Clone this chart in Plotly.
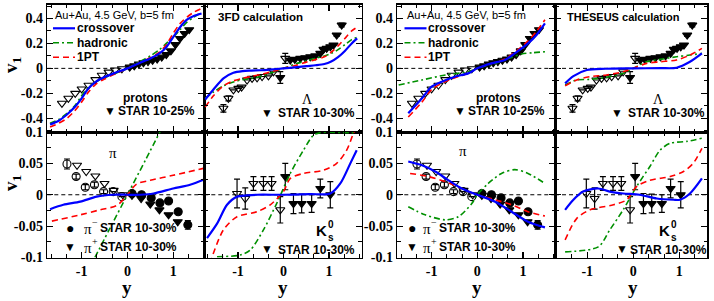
import plotly.graph_objects as go

W, H = 714, 301

# ------------------------------------------------------------------ data
# STAR protons (10-25%)
prot_fill_x = [0.05, 0.15, 0.25, 0.35, 0.45, 0.55, 0.65, 0.75, 0.85, 0.95, 1.05, 1.15, 1.25, 1.35]
prot_fill_y = [0.01, 0.02, 0.035, 0.045, 0.055, 0.065, 0.075, 0.09, 0.11, 0.14, 0.19, 0.24, 0.28, 0.31]
prot_open_x = [-0.12, -0.27, -0.41, -0.56, -0.7, -0.85, -1.0, -1.14, -1.29, -1.43]
prot_open_y = [-0.003, -0.013, -0.03, -0.055, -0.09, -0.135, -0.165, -0.2, -0.24, -0.28]

# STAR Lambda (10-30%)
lam_fill_x = [-0.07, 0.15, 0.25, 0.37, 0.48, 0.59, 0.7, 0.81, 0.88, 0.95, 1.03, 1.1, 1.17, 1.28]
lam_fill_y = [-0.073, 0.067, 0.072, 0.08, 0.085, 0.093, 0.1, 0.12, 0.152, 0.16, 0.173, 0.187, 0.267, 0.347]
lam_fill_e = [0.047, 0.0, 0.0, 0.0, 0.0, 0.0, 0.0, 0.0, 0.0, 0.0, 0.0, 0.0, 0.01, 0.015]
lam_open_x = [0.04, -0.22, -0.33, -0.47, -0.58, -0.69, -0.8, -0.92, -0.99, -1.1, -1.21, -1.32]
lam_open_y = [0.08, -0.027, -0.06, -0.065, -0.075, -0.08, -0.093, -0.15, -0.16, -0.173, -0.24, -0.32]
lam_open_e = [0.04, 0.0, 0.0, 0.0, 0.0, 0.0, 0.0, 0.0, 0.0, 0.0, 0.02, 0.03]

# STAR pions (10-30%)
pim_fill_x = [0.1, 0.31, 0.52, 0.71, 0.9, 1.11, 1.32]
pim_fill_y = [0.002, 0.0, -0.005, -0.013, -0.01, -0.027, -0.048]
pim_fill_e = [0.0, 0.0, 0.0, 0.0, 0.0, 0.0, 0.007]
pim_open_x = [-0.12, -0.31, -0.52, -0.72, -0.92, -1.12, -1.32]
pim_open_y = [-0.003, 0.005, 0.005, 0.016, 0.012, 0.029, 0.049]
pim_open_e = [0.0, 0.0, 0.003, 0.004, 0.004, 0.004, 0.008]
pip_fill_x = [0.1, 0.3, 0.5, 0.7, 0.9, 1.1]
pip_fill_y = [-0.001, -0.006, -0.015, -0.024, -0.032, -0.043]
pip_open_x = [-0.1, -0.3, -0.5, -0.7, -0.9, -1.1]
pip_open_y = [0.0, 0.007, 0.018, 0.03, 0.037, 0.047]

# STAR K0s (10-30%)
k_open_x = [-1.02, -0.84, -0.66, -0.44, -0.26, -0.07]
k_open_y = [0.002, -0.006, 0.018, 0.018, 0.018, -0.024]
k_open_e = [0.023, 0.017, 0.011, 0.011, 0.011, 0.021]
k_fill_x = [0.04, 0.22, 0.4, 0.62, 0.81, 1.03]
k_fill_y = [0.029, -0.014, -0.014, -0.014, 0.01, 0.0]
k_fill_e = [0.021, 0.016, 0.015, 0.014, 0.015, 0.021]

# 3FD protons
fd_p_x = [-1.69, -1.5, -1.32, -1.15, -1.0, -0.85, -0.7, -0.5, -0.3, 0.0, 0.3, 0.5, 0.7, 0.85, 1.0, 1.15, 1.3, 1.45, 1.62]
fd_p_cross = [-0.45, -0.42, -0.37, -0.31, -0.24, -0.16, -0.11, -0.07, -0.04, 0.0, 0.05, 0.08, 0.12, 0.17, 0.25, 0.33, 0.39, 0.42, 0.44]
fd_p_hadr = [-0.44, -0.41, -0.36, -0.30, -0.22, -0.15, -0.11, -0.075, -0.045, 0.0, 0.06, 0.1, 0.15, 0.2, 0.25, 0.31, 0.37, 0.41, 0.45]
fd_p_1pt = [-0.47, -0.44, -0.40, -0.34, -0.27, -0.19, -0.13, -0.085, -0.05, 0.0, 0.05, 0.085, 0.13, 0.19, 0.28, 0.36, 0.41, 0.45, 0.48]

# 3FD Lambda
fd_l_x = [-1.72, -1.54, -1.32, -1.1, -0.9, -0.7, -0.5, -0.3, 0.0, 0.3, 0.5, 0.7, 0.9, 1.05, 1.2, 1.35, 1.5, 1.62]
fd_l_cross = [-0.25, -0.17, -0.08, -0.035, -0.022, -0.018, -0.015, -0.01, 0.0, 0.01, 0.018, 0.025, 0.035, 0.055, 0.09, 0.14, 0.2, 0.24]
fd_l_hadr = [-0.24, -0.19, -0.14, -0.11, -0.09, -0.08, -0.065, -0.04, 0.0, 0.04, 0.06, 0.08, 0.1, 0.12, 0.15, 0.19, 0.23, 0.25]
fd_l_1pt = [-0.31, -0.22, -0.14, -0.10, -0.08, -0.063, -0.05, -0.03, 0.0, 0.027, 0.05, 0.07, 0.093, 0.13, 0.18, 0.24, 0.30, 0.33]

# 3FD pions
fd_pi_cross_x = [-1.69, -1.4, -1.03, -0.67, -0.31, 0.0, 0.28, 0.57, 1.0, 1.37, 1.66]
fd_pi_cross_y = [-0.023, -0.016, -0.011, -0.003, 0.0, 0.0, 0.0, 0.002, 0.01, 0.016, 0.024]
fd_pi_1pt_x = [-1.65, -1.03, -0.6, -0.23, 0.0, 0.2, 0.5, 1.0, 1.66]
fd_pi_1pt_y = [-0.042, -0.032, -0.024, -0.017, 0.0, 0.017, 0.023, 0.031, 0.042]
fd_pi_hadr_x = [-0.85, -0.4, 0.0, 0.4, 0.85]
fd_pi_hadr_y = [-0.12, -0.056, 0.0, 0.056, 0.12]

# 3FD K0s
fd_k_cross_x = [-1.68, -1.46, -1.24, -1.02, -0.8, -0.58, 0.0, 0.6, 1.03, 1.25, 1.47, 1.61]
fd_k_cross_y = [-0.069, -0.046, -0.016, -0.003, -0.001, 0.0, 0.0, 0.001, 0.002, 0.018, 0.05, 0.071]
fd_k_1pt_x = [-1.62, -1.32, -1.02, -0.58, -0.29, 0.0, 0.15, 0.44, 0.88, 1.17, 1.39, 1.54, 1.66]
fd_k_1pt_y = [-0.11, -0.056, -0.035, -0.027, -0.016, 0.005, 0.026, 0.034, 0.039, 0.05, 0.071, 0.098, 0.115]
fd_k_hadr_x = [-1.46, -0.95, -0.73, -0.44, -0.15, 0.15, 0.44, 0.66, 0.81, 1.32, 1.6]
fd_k_hadr_y = [-0.099, -0.096, -0.088, -0.056, -0.014, 0.034, 0.071, 0.095, 0.099, 0.099, 0.099]

# THESEUS protons
th_p_x = [-1.51, -1.21, -1.0, -0.78, -0.49, -0.2, 0.0, 0.31, 0.6, 0.82, 1.11, 1.3, 1.48]
th_p_cross = [-0.36, -0.24, -0.147, -0.107, -0.067, -0.04, 0.0, 0.04, 0.067, 0.12, 0.2, 0.27, 0.36]
th_p_1pt = [-0.39, -0.27, -0.17, -0.12, -0.075, -0.04, 0.0, 0.04, 0.075, 0.13, 0.22, 0.3, 0.39]
th_p_hadr_x = [-1.72, -1.21, -0.7, -0.2, 0.0, 0.39, 0.75, 0.97, 1.2, 1.48]
th_p_hadr_y = [-0.133, -0.093, -0.053, -0.027, 0.0, 0.04, 0.088, 0.115, 0.125, 0.133]

# THESEUS Lambda
th_l_cross_x = [-1.48, -1.3, -1.01, -0.6, 0.0, 0.6, 0.94, 1.23, 1.49]
th_l_cross_y = [-0.12, -0.062, -0.013, -0.003, 0.0, 0.002, 0.005, 0.053, 0.12]
th_l_x = [-1.48, -1.23, -0.94, -0.58, -0.22, 0.0, 0.29, 0.58, 0.94, 1.23, 1.49]
th_l_1pt = [-0.14, -0.093, -0.067, -0.053, -0.027, 0.0, 0.04, 0.053, 0.067, 0.107, 0.16]
th_l_hadr = [-0.133, -0.093, -0.088, -0.072, -0.04, 0.0, 0.053, 0.072, 0.093, 0.107, 0.12]

# THESEUS pions
th_pi_cross_x = [-1.51, -1.21, -0.92, -0.63, -0.34, 0.0, 0.39, 0.75, 1.11, 1.48]
th_pi_cross_y = [0.053, 0.047, 0.037, 0.023, 0.01, 0.0, -0.011, -0.027, -0.043, -0.052]
th_pi_1pt_x = [-1.47, -1.07, -0.7, -0.34, 0.0, 0.39, 0.75, 1.11, 1.48]
th_pi_1pt_y = [0.034, 0.029, 0.021, 0.01, 0.0, -0.008, -0.016, -0.027, -0.034]
th_pi_hadr_x = [-1.51, -1.14, -0.7, -0.41, -0.12, 0.0, 0.24, 0.53, 0.82, 1.11, 1.48]
th_pi_hadr_y = [-0.019, -0.032, -0.04, -0.035, -0.014, 0.0, 0.018, 0.034, 0.04, 0.034, 0.018]

# THESEUS K0s
th_k_cross_x = [-1.48, -1.3, -1.09, -0.76, -0.51, -0.22, 0.14, 0.51, 0.87, 1.01, 1.23, 1.49]
th_k_cross_y = [-0.024, -0.008, 0.005, 0.01, 0.005, 0.002, 0.0, -0.006, -0.008, -0.008, 0.002, 0.026]
th_k_1pt_x = [-1.48, -1.23, -0.94, -0.43, -0.14, 0.07, 0.36, 0.8, 1.09, 1.3, 1.49]
th_k_1pt_y = [-0.072, -0.038, -0.024, -0.016, -0.008, 0.013, 0.023, 0.029, 0.037, 0.05, 0.074]
th_k_hadr_x = [-1.48, -0.76, -0.51, -0.22, 0.07, 0.36, 0.58, 0.8, 1.16, 1.49]
th_k_hadr_y = [-0.091, -0.083, -0.056, -0.024, 0.013, 0.045, 0.071, 0.082, 0.085, 0.09]

# tick labels
x_tickvals = [-1, 0, 1]
x_ticktext = ["-1", "0", "1"]
ytop_tickvals = [-0.4, -0.2, 0, 0.2, 0.4]
ytop_ticktext = ["-0.4", "-0.2", "0", "0.2", "0.4"]
ybot_tickvals = [-0.1, -0.05, 0, 0.05, 0.1]
ybot_ticktext = ["-0.1", "-0.05", "0", "0.05", "0.1"]

# ------------------------------------------------------------------ style
SANS = "Liberation Sans, Arial, sans-serif"
SERIF = "Liberation Serif, Times New Roman, serif"
BLUE = "#0000ff"
GREEN = "#009000"
RED = "#ff0000"


def fx(px):
    return px / W


def fy(py):
    return 1 - py / H


TOP = (4.5, 132.0)
BOT = (132.0, 257.5)
# panel name: (x px domain, y px domain, xrange, yrange, xlabels, ylabels, top?)
panels = {
    1: ((47.3, 204.3), TOP, [-1.75, 1.68], [-0.51, 0.512], False, True, True),
    2: ((204.3, 361.7), TOP, [-1.74, 1.72], [-0.51, 0.512], False, False, True),
    3: ((397.3, 555.0), TOP, [-1.75, 1.70], [-0.51, 0.512], False, True, True),
    4: ((555.0, 707.0), TOP, [-1.70, 1.60], [-0.51, 0.512], False, False, True),
    5: ((47.3, 204.3), BOT, [-1.75, 1.68], [-0.1, 0.1], True, True, False),
    6: ((204.3, 361.7), BOT, [-1.74, 1.72], [-0.1, 0.1], True, False, False),
    7: ((397.3, 555.0), BOT, [-1.75, 1.70], [-0.1, 0.1], True, True, False),
    8: ((555.0, 707.0), BOT, [-1.70, 1.60], [-0.1, 0.1], True, False, False),
}

fig = go.Figure()
layout = dict(
    template="none",
    width=W, height=H, margin=dict(l=0, r=0, t=0, b=0, autoexpand=False),
    paper_bgcolor="white", plot_bgcolor="white", showlegend=False,
)
shapes = []
annotations = []

for k, (xd, yd, xr, yr, xl, yl, top) in panels.items():
    sx = "" if k == 1 else str(k)
    layout["xaxis" + sx] = dict(
        domain=[fx(xd[0]), fx(xd[1])], range=xr, anchor="y" + sx, automargin=False,
        showline=True, linecolor="black", linewidth=1.5, mirror="ticks",
        ticks="inside", ticklen=6, tickwidth=1.2, tickcolor="black",
        tickmode="array", tickvals=x_tickvals, ticktext=x_ticktext,
        showticklabels=xl, showgrid=False, zeroline=False,
        tickfont=dict(family=SERIF, size=14, color="black", weight="bold"),
        minor=dict(ticks="inside", ticklen=3.5, tickwidth=1.0, tickcolor="black",
                   tickmode="linear", tick0=0, dtick=1 / 3, showgrid=False),
    )
    layout["yaxis" + sx] = dict(
        domain=[fy(yd[1]), fy(yd[0])], range=yr, anchor="x" + sx, automargin=False,
        showline=True, linecolor="black", linewidth=1.5, mirror="ticks",
        ticks="inside", ticklen=6, tickwidth=1.2, tickcolor="black",
        tickmode="array",
        tickvals=ytop_tickvals if top else ybot_tickvals,
        ticktext=ytop_ticktext if top else ybot_ticktext,
        showticklabels=yl, showgrid=False, zeroline=False,
        tickfont=dict(family=SERIF, size=14, color="black", weight="bold"),
        minor=dict(ticks="inside", ticklen=3.5, tickwidth=1.0, tickcolor="black",
                   tickmode="linear", tick0=0, dtick=0.1 if top else 0.025, showgrid=False),
    )
    shapes.append(dict(type="line", xref="x%s domain" % sx, yref="y" + sx,
                       x0=0, x1=1, y0=0, y1=0, layer="below",
                       line=dict(color="black", width=1, dash="4px,3px")))


def line(k, x, y, kind):
    sx = "" if k == 1 else str(k)
    st = {"cross": dict(color=BLUE, width=2.2, dash="solid"),
          "hadr": dict(color=GREEN, width=1.6, dash="6px,3px,2px,3px"),
          "1pt": dict(color=RED, width=1.6, dash="6px,4px")}[kind]
    fig.add_trace(go.Scatter(x=x, y=y, mode="lines", xaxis="x" + sx, yaxis="y" + sx,
                             line=dict(shape="spline", smoothing=0.8, **st), hoverinfo="skip"))


def pts(k, x, y, symbol, err=None, size=8):
    sx = "" if k == 1 else str(k)
    ey = dict(type="data", array=err, color="black", thickness=1.2, width=3) if err else None
    fig.add_trace(go.Scatter(x=x, y=y, mode="markers", xaxis="x" + sx, yaxis="y" + sx,
                             marker=dict(symbol=symbol, size=size, color="black",
                                         line=dict(color="black", width=1.1)),
                             error_y=ey, hoverinfo="skip"))


def proton_data(k):
    pts(k, prot_open_x, prot_open_y, "triangle-down-open")
    pts(k, prot_fill_x, prot_fill_y, "triangle-down")


def lambda_data(k):
    pts(k, lam_open_x, lam_open_y, "triangle-down-open", lam_open_e)
    pts(k, lam_fill_x, lam_fill_y, "triangle-down", lam_fill_e)


def pion_data(k):
    pts(k, pip_open_x, pip_open_y, "triangle-down-open")
    pts(k, pip_fill_x, pip_fill_y, "triangle-down")
    pts(k, pim_open_x, pim_open_y, "circle-open", pim_open_e)
    pts(k, pim_fill_x, pim_fill_y, "circle", pim_fill_e)


def kaon_data(k):
    pts(k, k_open_x, k_open_y, "triangle-down-open", k_open_e)
    pts(k, k_fill_x, k_fill_y, "triangle-down", k_fill_e)


# panel 1: protons 3FD
proton_data(1)
line(1, fd_p_x, fd_p_hadr, "hadr")
line(1, fd_p_x, fd_p_1pt, "1pt")
line(1, fd_p_x, fd_p_cross, "cross")
# panel 2: Lambda 3FD
lambda_data(2)
line(2, fd_l_x, fd_l_hadr, "hadr")
line(2, fd_l_x, fd_l_1pt, "1pt")
line(2, fd_l_x, fd_l_cross, "cross")
# panel 3: protons THESEUS
proton_data(3)
line(3, th_p_hadr_x, th_p_hadr_y, "hadr")
line(3, th_p_x, th_p_1pt, "1pt")
line(3, th_p_x, th_p_cross, "cross")
# panel 4: Lambda THESEUS
lambda_data(4)
line(4, th_l_x, th_l_hadr, "hadr")
line(4, th_l_x, th_l_1pt, "1pt")
line(4, th_l_cross_x, th_l_cross_y, "cross")
# panel 5: pions 3FD
pion_data(5)
line(5, fd_pi_hadr_x, fd_pi_hadr_y, "hadr")
line(5, fd_pi_1pt_x, fd_pi_1pt_y, "1pt")
line(5, fd_pi_cross_x, fd_pi_cross_y, "cross")
# panel 6: K0s 3FD
kaon_data(6)
line(6, fd_k_hadr_x, fd_k_hadr_y, "hadr")
line(6, fd_k_1pt_x, fd_k_1pt_y, "1pt")
line(6, fd_k_cross_x, fd_k_cross_y, "cross")
# panel 7: pions THESEUS
pion_data(7)
line(7, th_pi_hadr_x, th_pi_hadr_y, "hadr")
line(7, th_pi_1pt_x, th_pi_1pt_y, "1pt")
line(7, th_pi_cross_x, th_pi_cross_y, "cross")
# panel 8: K0s THESEUS
kaon_data(8)
line(8, th_k_hadr_x, th_k_hadr_y, "hadr")
line(8, th_k_1pt_x, th_k_1pt_y, "1pt")
line(8, th_k_cross_x, th_k_cross_y, "cross")


def txt(px, py, text, family=SANS, size=12, bold=False, anchor="left", angle=0):
    annotations.append(dict(
        x=fx(px), y=fy(py), xref="paper", yref="paper", text=text, showarrow=False,
        xanchor=anchor, yanchor="middle", textangle=angle,
        font=dict(family=family, size=size, color="black", weight="bold" if bold else "normal"),
        borderpad=0))


def legend_block(x0):
    txt(x0, 15, "Au+Au, 4.5 GeV, b=5 fm", size=11)
    for py, name, kind in [(28.3, "crossover", "cross"), (42.7, "hadronic", "hadr"), (57.3, "1PT", "1pt")]:
        st = {"cross": dict(color=BLUE, width=2.2), "hadr": dict(color=GREEN, width=1.6, dash="6px,3px,2px,3px"),
              "1pt": dict(color=RED, width=1.6, dash="6px,4px")}[kind]
        shapes.append(dict(type="line", xref="paper", yref="paper", x0=fx(x0 - 1), x1=fx(x0 + 21),
                           y0=fy(py), y1=fy(py), line=st))
        txt(x0 + 21.5, py, name, size=12, bold=True)


# top-left group texts
legend_block(54)
txt(145, 98.3, "protons", size=12, bold=True, anchor="center")
txt(110, 111.5, "▼", size=12, anchor="center")
txt(117, 111.5, "STAR 10-25%", size=12, bold=True)
txt(216.7, 17.3, "3FD calculation", size=11.5, bold=True)
txt(307.3, 99.3, "Λ", family=SERIF, size=14, anchor="center")
txt(267.3, 112.7, "▼", size=12, anchor="center")
txt(277, 112.7, "STAR 10-30%", size=12, bold=True)
# top-right group texts
legend_block(405.5)
txt(499, 98.3, "protons", size=12, bold=True, anchor="center")
txt(460, 111.5, "▼", size=12, anchor="center")
txt(466.5, 111.5, "STAR 10-25%", size=12, bold=True)
txt(566, 17.3, "THESEUS calculation", size=11, bold=True)
txt(658.3, 99.3, "Λ", family=SERIF, size=14, anchor="center")
txt(617.3, 112.7, "▼", size=12, anchor="center")
txt(627, 112.7, "STAR 10-30%", size=12, bold=True)


def pion_legend(x0, xpi):
    txt(x0, 227.5, "●", size=14, anchor="center")
    txt(xpi, 228.5, "π", family=SERIF, size=15)
    txt(xpi + 8.5, 222.5, "−", family=SERIF, size=10)
    txt(xpi + 16, 227.5, "STAR 10-30%", size=12, bold=True)
    txt(x0, 246.7, "▼", size=12, anchor="center")
    txt(xpi, 247.7, "π", family=SERIF, size=15)
    txt(xpi + 8.5, 241.7, "+", family=SERIF, size=10)
    txt(xpi + 16, 246.7, "STAR 10-30%", size=12, bold=True)


txt(113, 152.7, "π", family=SERIF, size=15, anchor="center")
pion_legend(70, 83)
txt(463.3, 150.7, "π", family=SERIF, size=15, anchor="center")
pion_legend(411.7, 421.5)


def kaon_label(xk):
    txt(xk, 230, "K", size=15, bold=True, anchor="center")
    txt(xk + 6, 224, "0", size=10, bold=True)
    txt(xk + 6, 237, "s", size=10, bold=True)


kaon_label(321)
txt(266.7, 248.8, "▼", size=12, anchor="center")
txt(277, 249.5, "STAR 10-30%", size=12, bold=True)
kaon_label(664)
txt(621.7, 248.8, "▼", size=12, anchor="center")
txt(629, 249.5, "STAR 10-30%", size=12, bold=True)

# axis titles
for py in (65, 183):
    txt(12, py, "v<sub>1</sub>", family=SERIF, size=19, bold=True, anchor="center", angle=-90)
for px in (127.3, 283.3, 477.3, 633.3):
    txt(px, 287.5, "y", family=SERIF, size=19, bold=True, anchor="center")

layout["shapes"] = shapes
layout["annotations"] = annotations
fig.update_layout(**layout)
fig.write_html("out.html", config={"displayModeBar": False, "staticPlot": True},
               post_script="document.body.style.margin='0';document.body.style.padding='0';")
